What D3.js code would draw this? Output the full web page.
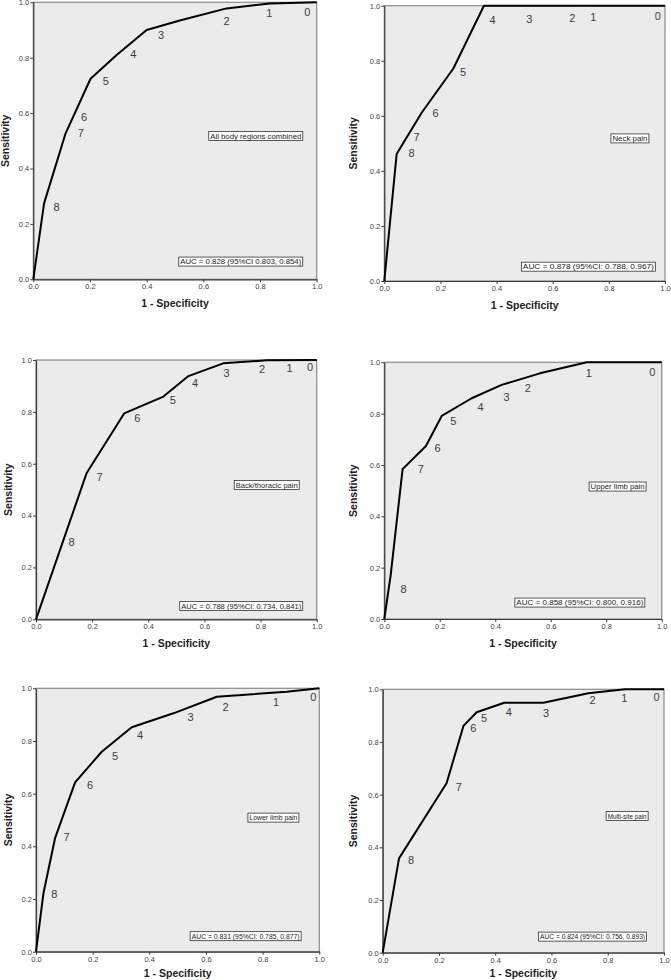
<!DOCTYPE html>
<html>
<head>
<meta charset="utf-8">
<script src="https://cdn.jsdelivr.net/npm/d3@7"></script>
<style>
  body { margin: 0; background: #fff; }
  svg { display: block; }
  text { font-family: "Liberation Sans", Arial, sans-serif; }
</style>
</head>
<body>
<svg id="chart" width="671" height="980"></svg>
<script>
// ---------- DATA ----------
const panelNames = ["All body regions combined", "Neck pain", "Back/thoracic pain",
                    "Upper limb pain", "Lower limb pain", "Multi-site pain"];
const aucTexts = ["AUC = 0.828 (95%CI 0.803, 0.854)", "AUC = 0.878 (95%CI: 0.788, 0.967)",
                  "AUC = 0.788 (95%CI: 0.734, 0.841)", "AUC = 0.858 (95%CI: 0.800, 0.916)",
                  "AUC = 0.831 (95%CI: 0.785, 0.877)", "AUC = 0.824 (95%CI: 0.756, 0.893)"];
const tickValues = [0, 0.2, 0.4, 0.6, 0.8, 1.0];
const xTitle = "1 - Specificity";
const yTitle = "Sensitivity";
const cutoffLabels = ["8", "7", "6", "5", "4", "3", "2", "1", "0"];

// ROC curve vertices (1 - specificity, sensitivity)
const fprAll  = [0, 0.038, 0.114, 0.202, 0.294, 0.400, 0.520, 0.682, 0.835, 1.0];
const tprAll  = [0, 0.274, 0.527, 0.724, 0.810, 0.900, 0.935, 0.978, 0.996, 1.0];
const fprNeck = [0, 0.044, 0.133, 0.246, 0.355, 1.0];
const tprNeck = [0, 0.461, 0.611, 0.772, 1.0, 1.0];
const fprBack = [0, 0.180, 0.314, 0.454, 0.543, 0.667, 0.822, 1.0];
const tprBack = [0, 0.563, 0.794, 0.859, 0.938, 0.987, 0.999, 1.0];
const fprUpper = [0, 0.023, 0.066, 0.150, 0.207, 0.315, 0.423, 0.561, 0.730, 1.0];
const tprUpper = [0, 0.171, 0.584, 0.674, 0.791, 0.860, 0.912, 0.957, 1.0, 1.0];
const fprLower = [0, 0.026, 0.067, 0.138, 0.232, 0.338, 0.485, 0.638, 0.885, 1.0];
const tprLower = [0, 0.220, 0.430, 0.643, 0.759, 0.852, 0.905, 0.968, 0.987, 1.0];
const fprMulti = [0, 0.058, 0.227, 0.287, 0.334, 0.432, 0.571, 0.731, 0.861, 1.0];
const tprMulti = [0, 0.358, 0.643, 0.861, 0.913, 0.949, 0.949, 0.985, 1.0, 1.0];

// cut-off label positions (order 8..0)
const lblXAll  = [0.082, 0.168, 0.179, 0.256, 0.353, 0.451, 0.682, 0.833, 0.967];
const lblYAll  = [0.262, 0.529, 0.584, 0.716, 0.812, 0.882, 0.933, 0.960, 0.963];
const lblXNeck = [0.097, 0.115, 0.183, 0.281, 0.386, 0.517, 0.670, 0.745, 0.974];
const lblYNeck = [0.464, 0.522, 0.609, 0.760, 0.948, 0.952, 0.954, 0.958, 0.961];
const lblXBack = [0.127, 0.226, 0.361, 0.487, 0.567, 0.679, 0.805, 0.903, 0.976];
const lblYBack = [0.296, 0.548, 0.774, 0.846, 0.910, 0.949, 0.965, 0.970, 0.974];
const lblXUpper = [0.069, 0.132, 0.192, 0.249, 0.347, 0.441, 0.517, 0.737, 0.966];
const lblYUpper = [0.116, 0.584, 0.665, 0.771, 0.827, 0.866, 0.901, 0.958, 0.961];
const lblXLower = [0.065, 0.108, 0.191, 0.279, 0.367, 0.546, 0.669, 0.847, 0.979];
const lblYLower = [0.219, 0.434, 0.633, 0.744, 0.823, 0.889, 0.930, 0.946, 0.965];
const lblXMulti = [0.101, 0.271, 0.322, 0.360, 0.448, 0.581, 0.746, 0.859, 0.974];
const lblYMulti = [0.352, 0.627, 0.854, 0.890, 0.915, 0.911, 0.957, 0.968, 0.972];

// annotation box centres (data units)
const nameBoxX = [0.785, 0.875, 0.822, 0.841, 0.838, 0.869];
const nameBoxY = [0.517, 0.518, 0.518, 0.516, 0.509, 0.519];
const aucBoxX  = [0.732, 0.727, 0.731, 0.705, 0.740, 0.746];
const aucBoxY  = [0.064, 0.052, 0.051, 0.064, 0.059, 0.061];

// ---------- LAYOUT ----------
const frames = [
  {x0: 33.3,  x1: 316.7, yT: 2.3,   yB: 279.3, yt: 24, xt: 28},
  {x0: 384.3, x1: 665.0, yT: 5.7,   yB: 281.0, yt: 27, xt: 28},
  {x0: 36.0,  x1: 316.7, yT: 360.0, yB: 619.3, yt: 24, xt: 28},
  {x0: 384.3, x1: 661.7, yT: 362.3, yB: 619.0, yt: 27, xt: 28},
  {x0: 36.0,  x1: 319.3, yT: 688.3, yB: 951.7, yt: 24, xt: 25},
  {x0: 382.7, x1: 664.0, yT: 689.3, yB: 952.7, yt: 26, xt: 24.5}
];
const nameBoxW = [94, 38, 65, 57, 51, 42];
const aucBoxW  = [124, 134, 123, 130, 111, 108];

const curves = [
  [fprAll, tprAll, lblXAll, lblYAll],
  [fprNeck, tprNeck, lblXNeck, lblYNeck],
  [fprBack, tprBack, lblXBack, lblYBack],
  [fprUpper, tprUpper, lblXUpper, lblYUpper],
  [fprLower, tprLower, lblXLower, lblYLower],
  [fprMulti, tprMulti, lblXMulti, lblYMulti]
];

const svg = d3.select("#chart");

frames.forEach((f, i) => {
  const x = d3.scaleLinear().domain([0, 1]).range([f.x0, f.x1]);
  const y = d3.scaleLinear().domain([0, 1]).range([f.yB, f.yT]);
  const g = svg.append("g");

  // plot background + frame
  g.append("rect")
    .attr("x", x(0)).attr("y", y(1))
    .attr("width", x(1) - x(0)).attr("height", y(0) - y(1))
    .attr("fill", "#ebebeb").attr("stroke", "#8a8a8a").attr("stroke-width", 1.2);

  // axes
  const fmt = d3.format(".1f");
  const xAxis = g.append("g").attr("transform", `translate(0,${y(0)})`)
    .call(d3.axisBottom(x).tickValues(tickValues).tickFormat(fmt).tickSizeInner(3).tickSizeOuter(0).tickPadding(1.5));
  const yAxis = g.append("g").attr("transform", `translate(${x(0)},0)`)
    .call(d3.axisLeft(y).tickValues(tickValues).tickFormat(fmt).tickSizeInner(3).tickSizeOuter(0).tickPadding(1));
  [xAxis, yAxis].forEach(a => {
    a.select(".domain").attr("stroke", "#3a3a3a").attr("stroke-width", 1.2);
    a.selectAll(".tick line").attr("stroke", "#3a3a3a");
    a.selectAll(".tick text").attr("fill", "#444").style("font-size", "7.5px")
      .style("font-family", "'Liberation Sans', Arial, sans-serif");
  });

  // axis titles
  g.append("text")
    .attr("x", (x(0) + x(1)) / 2).attr("y", y(0) + f.xt)
    .attr("text-anchor", "middle")
    .style("font-size", "10.5px").style("font-weight", "bold").attr("fill", "#222")
    .text(xTitle);
  g.append("text")
    .attr("transform", `translate(${x(0) - f.yt},${(y(0) + y(1)) / 2}) rotate(-90)`)
    .attr("text-anchor", "middle")
    .style("font-size", "10.5px").style("font-weight", "bold").attr("fill", "#222")
    .text(yTitle);

  // ROC curve
  const [fx, ty, lx, ly] = curves[i];
  const pts = fx.map((v, k) => [v, ty[k]]);
  g.append("path")
    .datum(pts)
    .attr("d", d3.line().x(d => x(d[0])).y(d => y(d[1])))
    .attr("fill", "none").attr("stroke", "#000").attr("stroke-width", 2)
    .attr("stroke-linejoin", "round");

  // cut-off labels
  g.selectAll("text.cut").data(cutoffLabels).enter().append("text")
    .attr("class", "cut")
    .attr("x", (d, k) => x(lx[k])).attr("y", (d, k) => y(ly[k]))
    .attr("text-anchor", "middle").attr("dy", "0.35em")
    .style("font-size", "11px").attr("fill", "#3c3c3c")
    .text(d => d);

  // name box
  const nbx = x(nameBoxX[i]), nby = y(nameBoxY[i]);
  g.append("rect")
    .attr("x", nbx - nameBoxW[i] / 2).attr("y", nby - 4.5)
    .attr("width", nameBoxW[i]).attr("height", 9)
    .attr("fill", "#fff").attr("stroke", "#333").attr("stroke-width", 0.8);
  g.append("text")
    .attr("x", nbx).attr("y", nby).attr("dy", "0.35em")
    .attr("text-anchor", "middle")
    .attr("textLength", nameBoxW[i] - 3).attr("lengthAdjust", "spacingAndGlyphs")
    .style("font-size", "8px").attr("fill", "#222")
    .text(panelNames[i]);

  // AUC box
  const abx = x(aucBoxX[i]), aby = y(aucBoxY[i]);
  g.append("rect")
    .attr("x", abx - aucBoxW[i] / 2).attr("y", aby - 4.5)
    .attr("width", aucBoxW[i]).attr("height", 9)
    .attr("fill", "#fff").attr("stroke", "#333").attr("stroke-width", 0.8);
  g.append("text")
    .attr("x", abx).attr("y", aby).attr("dy", "0.35em")
    .attr("text-anchor", "middle")
    .attr("textLength", aucBoxW[i] - 3).attr("lengthAdjust", "spacingAndGlyphs")
    .style("font-size", "8px").attr("fill", "#222")
    .text(aucTexts[i]);
});
</script>
</body>
</html>
